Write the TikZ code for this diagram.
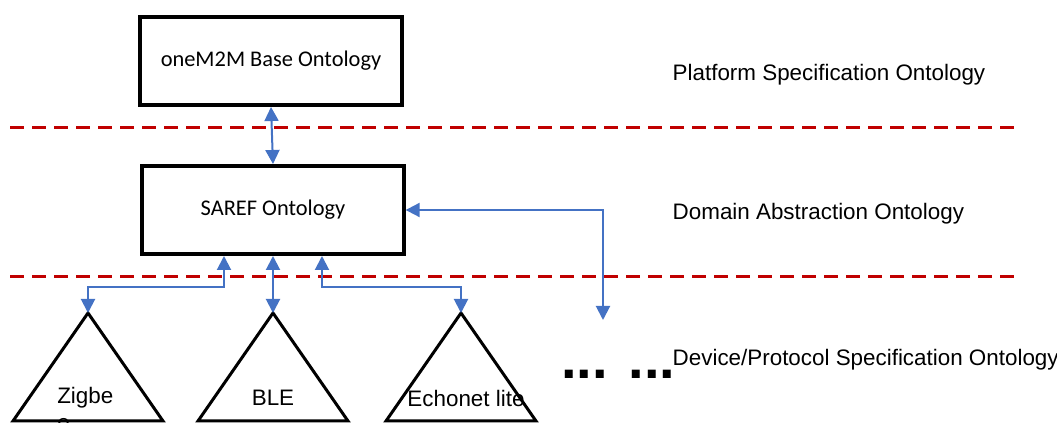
\documentclass[tikz,border=0pt]{standalone}
\usepackage{fontspec}
\setmainfont{Liberation Sans}
\newfontfamily\boxfont{Carlito}
\usetikzlibrary{arrows.meta,calc}
\definecolor{linkblue}{HTML}{4472C4}
\definecolor{sepred}{HTML}{C00000}
\begin{document}
\begin{tikzpicture}[x=0.75pt,y=-0.75pt,
  txt/.style={font=\fontsize{16.8}{20}\selectfont},
  box/.style={draw,line width=3pt,minimum width=196pt,minimum height=66pt,
    font=\boxfont\fontsize{16.8}{20}\selectfont},
  link/.style={draw=linkblue,line width=1.5pt,
    {Triangle[width=10.5pt,length=10.5pt]}-{Triangle[width=10.5pt,length=10.5pt]}},
  sep/.style={draw=sepred,line width=2.25pt,dash pattern=on 10.5pt off 6pt},
  tri/.style={draw,line width=2.25pt,line join=miter}]
 \useasboundingbox (0,0) rectangle (1057,423);
 % layer separators
 \draw[sep] (10,128) -- (1015,128);
 \draw[sep] (10,277) -- (1015,277);
 % ontologies
 \node[box] (base) at (271,61) {oneM2M Base Ontology};
 \node[box] (saref) at (273,210) {SAREF Ontology};
 % device triangles
 \coordinate (zig) at (88,313);
 \coordinate (ble) at (273,313);
 \coordinate (echo) at (461,313);
 \foreach \c in {zig,ble,echo}
  \draw[tri] (\c) -- ++(-75,108) -- ++(150,0) -- cycle;
 \node[txt,align=left,anchor=north west,inner sep=0pt] (zigtxt) at (57,387) {Zigbe\\e};
 \node[txt] (bletxt) at (273,398) {BLE};
 \node[txt] (echotxt) at (466,398) {Echonet lite};
 \node[font=\bfseries\fontsize{42}{44}\selectfont,anchor=base west,inner sep=0pt] (more) at (561,379) {... ...};
 \coordinate (devend) at (603,320);
 % layer labels
 \node[txt,anchor=west] (platform) at (668,75) {Platform Specification Ontology};
 \node[txt,anchor=west] (domain) at (668,214) {Domain Abstraction Ontology};
 \node[txt,anchor=west] (device) at (668,360) {Device/Protocol Specification Ontology};
 % links
 \draw[link] (base.south) -- (saref.north);
 \draw[link] (saref.east) -| (devend);
 \draw[link] ($(saref.south)+(-49,0)$) -- ++(0,31) -| (zig);
 \draw[link] (saref.south) -- (ble);
 \draw[link] ($(saref.south)+(49,0)$) -- ++(0,31) -| (echo);
\end{tikzpicture}
\end{document}
